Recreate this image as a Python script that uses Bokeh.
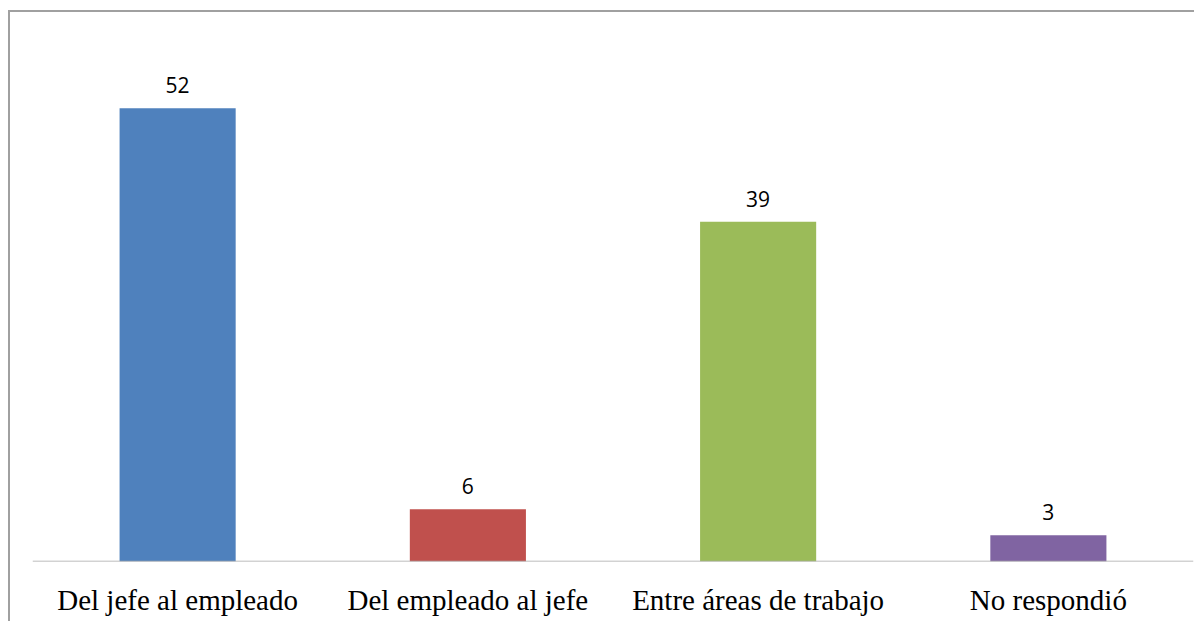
from bokeh.plotting import figure
from bokeh.models import ColumnDataSource, FactorRange, Range1d, LabelSet, Span
from bokeh.core.properties import value
from bokeh.embed import file_html
from bokeh.resources import INLINE

categories = ["Del jefe al empleado", "Del empleado al jefe", "Entre áreas de trabajo", "No respondió"]
values = [52, 6, 39, 3]
colors = ["#4F81BD", "#C0504D", "#9BBB59", "#8064A2"]

src = ColumnDataSource(dict(cat=categories, val=values, color=colors,
                            lab=[str(v) for v in values]))

p = figure(x_range=FactorRange(factors=categories, range_padding=0),
           y_range=Range1d(0, 63),
           width=1186, height=611, output_backend="svg", toolbar_location=None,
           y_axis_location=None, min_border_left=22, min_border_right=3,
           min_border_top=0, min_border_bottom=62)
p.styles = {"border-left": "2px solid #a0a0a0", "border-top": "2px solid #a0a0a0",
            "margin-top": "10px", "margin-left": "8px", "margin-bottom": "-8px"}

p.vbar(x="cat", top="val", width=0.4, color="color", source=src, line_color=None)

labels = LabelSet(x="cat", y="val", text="lab", source=src, text_align="center",
                  text_baseline="alphabetic", y_offset=15, text_font=value("Open Sans"),
                  text_font_size=value("21px"), text_color="#000000")
p.add_layout(labels)

p.add_layout(Span(location=0, dimension="width", line_color="#a6a6a6", line_width=1.5))

p.xgrid.grid_line_color = None
p.ygrid.grid_line_color = None
p.outline_line_color = None
p.background_fill_color = "white"
p.border_fill_color = "white"

ax = p.xaxis[0]
ax.axis_line_color = None
ax.major_tick_line_color = None
ax.minor_tick_line_color = None
ax.major_tick_out = 0
ax.major_label_standoff = 22
ax.major_label_text_font = "Liberation Serif"
ax.major_label_text_font_size = "29px"
ax.major_label_text_color = "#000000"

open("out.html", "w").write(file_html(p, INLINE))
